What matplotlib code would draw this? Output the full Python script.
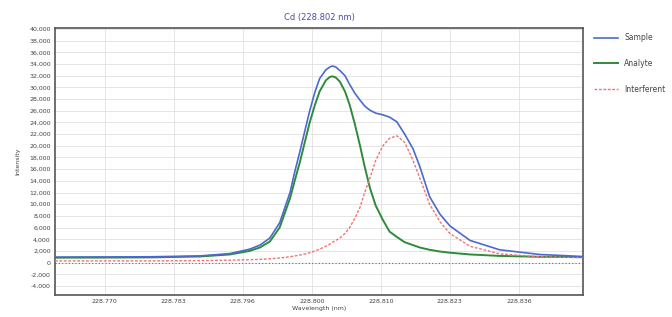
import numpy as np
import matplotlib
matplotlib.use('Agg')
import matplotlib.pyplot as plt

# wavelength grid (nm)
wavelength = [228.7604, 228.7700, 228.7787, 228.7883, 228.7941,
              228.7979, 228.7999, 228.8018, 228.8037, 228.8057,
              228.8066, 228.8076, 228.8086, 228.8095, 228.8105,
              228.8114, 228.8126, 228.8134, 228.8139, 228.8145,
              228.8153, 228.8163, 228.8172, 228.8182, 228.8192,
              228.8201, 228.8211, 228.8222, 228.8236, 228.8249,
              228.8263, 228.8278, 228.8294, 228.8307, 228.8326,
              228.8346, 228.8365, 228.8404, 228.8461, 228.8538,
              228.8621]

sample = [950, 970, 1000, 1150, 1550,
          2300, 3000, 4200, 6800, 12000,
          15500, 19000, 22700, 26000, 29200,
          31500, 33000, 33500, 33660, 33500,
          32900, 32000, 30500, 29000, 27800,
          26800, 26100, 25600, 25300, 24900,
          24100, 22000, 19500, 16500, 11300,
          8300, 6300, 3800, 2200, 1400,
          1050]

analyte = [850, 870, 900, 1050, 1400,
           2000, 2600, 3600, 6000, 11000,
           14000, 17200, 20800, 24000, 27000,
           29300, 31200, 31800, 31900, 31700,
           31000, 29300, 27000, 23700, 20000,
           16400, 12800, 9800, 7300, 5300,
           4400, 3500, 3000, 2600, 2200,
           1900, 1700, 1400, 1150, 1000,
           950]

interferent = [300, 300, 300, 350, 420,
               500, 560, 650, 800, 1000,
               1150, 1300, 1500, 1700, 2000,
               2300, 2800, 3200, 3500, 3800,
               4200, 5000, 6000, 7600, 9500,
               12000, 14500, 17500, 20000, 21300,
               21700, 20600, 17500, 14500, 10000,
               7000, 5000, 2800, 1500, 1000,
               850]

xtick_labels = ['228.770', '228.783', '228.796', '228.800', '228.810', '228.823', '228.836']
xtick_pos = [228.770 + 0.0133 * i for i in range(len(xtick_labels))]
ytick_vals = list(range(-4000, 40001, 2000))

fig = plt.figure(figsize=(6.72, 3.17), dpi=100)
ax = fig.add_axes([0.0818, 0.0694, 0.786, 0.8423])

ax.axhline(0, color='#4a66d0', lw=0.8, ls=(0, (1, 2)), zorder=2)
ax.plot(wavelength, sample, color='#4a6ad0', lw=1.2, label='Sample', zorder=4)
ax.plot(wavelength, analyte, color='#2e8b3a', lw=1.4, label='Analyte', zorder=3)
ax.plot(wavelength, interferent, color='#f07474', lw=1.0, ls=(0, (2, 1.2)),
        label='Interferent', zorder=3)

ax.set_xlim(228.7604, 228.8622)
ax.set_ylim(-5540, 40170)
ax.set_xticks(xtick_pos)
ax.set_xticklabels(xtick_labels)
ax.set_yticks(ytick_vals)
ax.set_yticklabels(['{:,}'.format(v) for v in ytick_vals])
ax.tick_params(labelsize=4.5, length=0, pad=3, colors='#444444')
ax.grid(True, color='#e0e0e0', lw=0.6)
ax.set_axisbelow(True)
for s in ax.spines.values():
    s.set_color('#555555')
    s.set_linewidth(1.2)

ax.set_title('Cd (228.802 nm)', fontsize=6, color='#4a4aa8', pad=6)
ax.set_xlabel('Wavelength (nm)', fontsize=4.5, color='#444444', labelpad=1)
ax.set_ylabel('Intensity', fontsize=4.5, color='#444444', labelpad=6)

leg = ax.legend(loc='upper left', bbox_to_anchor=(1.01, 1.0), frameon=False,
                fontsize=5.5, handlelength=3.2, labelspacing=2.2, borderaxespad=0.3)
for t in leg.get_texts():
    t.set_color('#444444')

fig.savefig('out.png', dpi=100)
